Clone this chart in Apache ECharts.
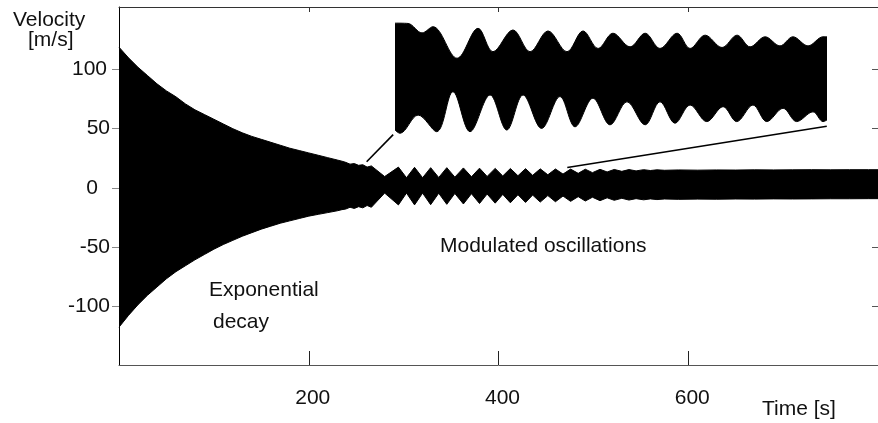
<!DOCTYPE html>
<html><head><meta charset="utf-8">
<script src="https://cdn.jsdelivr.net/npm/echarts@6/dist/echarts.min.js"></script>
<style>html,body{margin:0;padding:0;background:#fff}#c{width:878px;height:423px}</style>
</head><body><div id="c"></div>
<script>
// Main signal envelope (time in s, velocity in m/s)
const mainTime  = [0,10,20,30,40,50,60,70,80,90,100,110,120,130,140,150,160,170,180,190,200,210,220,230,235,239,243.5,248,252.5,257,261.5,266,280,294.5,303,311.5,320,328.5,337,345.5,354,363,371.5,380,388,396.5,404.5,412.5,420.5,428.5,436,444,452,460,468,476,484,491.5,499,507,514.5,522,530,537.5,545,553,560,567,575,590,610,630,650,670,690,710,730,750,770,790,800];
const mainUpper = [119,110,102,95,88,82,77,71,66,62,58,54,50,46.5,43.5,41,38.5,36,33.5,31.5,29.5,27.5,25.5,23.5,22.5,21.5,20,20.5,19,19.5,17.5,18.5,9.5,17.5,8.5,17.3,8.5,17,8.7,17,9,16.8,9.3,16.6,9.6,16.4,10,16.3,10.2,16.2,10.5,16,11,15.9,11.6,15.8,12.2,15.7,12.8,15.6,13.4,15.5,13.9,15.4,14.3,15.3,14.6,15.2,14.8,15.1,14.9,15.1,15,15.2,15.1,15.2,15.3,15.2,15.3,15.3,15.3];
const mainLower = [-118,-108,-99,-91,-84,-77,-71,-66,-61,-56.5,-52,-48,-44.5,-41,-38,-35,-32.5,-30,-28,-26,-24,-22.5,-21,-19.5,-18.5,-18,-16.5,-17.5,-16,-17,-15,-16.5,-4.5,-14.5,-4.5,-14.5,-4.5,-14.3,-4.6,-14,-4.8,-13.7,-5,-13.3,-5.3,-13,-5.6,-12.7,-5.9,-12.4,-6.2,-12.1,-6.6,-11.8,-7,-11.5,-7.5,-11.2,-8,-10.9,-8.5,-10.6,-8.9,-10.4,-9.2,-10.2,-9.4,-10,-9.5,-9.8,-9.6,-9.7,-9.5,-9.6,-9.4,-9.5,-9.4,-9.3,-9.3,-9.2,-9.2];

// Inset (zoom on the modulated part)
const insetTime  = [262,268.3,275.1,280.4,292.1,302.3,309.5,319.2,327.5,336.2,345.4,353.2,360.5,367.7,376,383.3,390.5,398.8,405.1,412.4,420.6,427.9,434.2,441.5,448.7,455,462.3,469.6,471.5];
const insetUpperV = [17.5,17.4,14.5,16.4,6.7,15.9,8.7,15.4,8.7,15.1,8.7,15.1,9.7,14.4,10.2,14.4,9.7,14.4,9.7,13.8,10,13.8,10.2,13.3,10.5,13.3,10.5,13.3,13.3];
const insetLowTime = [262,264.4,273.2,282.2,290.1,298.4,308.1,316.2,324.1,333.1,342,349.3,358,366.3,374.5,383.3,390.5,397.8,405.1,413.2,421.1,427.7,435.6,442.3,450.2,456.8,464.7,469.6,471.5];
const insetLowerV = [-15.4,-16.4,-10.8,-15.9,-3.6,-15.9,-4.6,-15.4,-4.6,-14.9,-5.1,-14.4,-5.6,-13.8,-6.7,-13.8,-6.7,-13.3,-7.7,-12.8,-8.2,-12.8,-7.7,-12.8,-8.7,-12.8,-9.8,-12.8,-12.3];

const xTickValues = [200,400,600];
const yTickValues = [-100,-50,0,50,100];
// connector lines (data coordinates of main plot)
const connectors = [[[261,22],[289,45]],[[472.5,17.2],[746,52]]];

const FONT = '"Liberation Sans", Arial, sans-serif';
const FS = 21;
const pair = (ts, vs) => ts.map((t,i)=>[t, vs[i]]);

const chart = echarts.init(document.getElementById('c'), null, {renderer:'canvas'});
const bandSeries = (data, xi, yi, origin, smooth) => ({
  type:'line', data, xAxisIndex:xi, yAxisIndex:yi, showSymbol:false, symbol:'none',
  smooth: smooth || false,
  lineStyle:{color:'#000', width:1}, areaStyle:{color:'#000', opacity:1, origin:origin},
  silent:true, animation:false, z:2
});
const upperMain = bandSeries(pair(mainTime, mainUpper), 0, 0, -3);
upperMain.markLine = {
  silent:true, symbol:['none','none'], label:{show:false}, animation:false,
  lineStyle:{color:'#000', width:1.6, type:'solid'},
  data: connectors.map(c => [{coord:c[0]},{coord:c[1]}])
};

chart.setOption({
  animation:false,
  backgroundColor:'#fff',
  grid:[
    {left:119, right:-4, top:7, bottom:58},
    {left:395, right:51, top:15, height:130}
  ],
  xAxis:[
    {gridIndex:0, type:'value', position:'bottom', min:0, max:800,
     axisLine:{show:true, onZero:false, lineStyle:{color:'#555', width:1}},
     axisTick:{show:true, inside:true, length:14, customValues:xTickValues, lineStyle:{color:'#222'}},
     axisLabel:{show:true, customValues:xTickValues, margin:23, fontSize:FS, fontFamily:FONT, color:'#111', padding:[0,0,0,8]},
     splitLine:{show:false}},
    {gridIndex:0, type:'value', position:'top', min:0, max:800,
     axisLine:{show:true, onZero:false, lineStyle:{color:'#333', width:1}},
     axisTick:{show:true, inside:true, length:5, customValues:xTickValues, lineStyle:{color:'#333'}},
     axisLabel:{show:false}, splitLine:{show:false}},
    {gridIndex:1, type:'value', min:262, max:471.5, show:false}
  ],
  yAxis:[
    {gridIndex:0, type:'value', position:'left', min:-150, max:153,
     axisLine:{show:true, onZero:false, lineStyle:{color:'#000', width:1}},
     axisTick:{show:true, inside:false, length:7, customValues:yTickValues, lineStyle:{color:'#888'}},
     axisLabel:{show:true, customValues:yTickValues, margin:9, fontSize:FS, fontFamily:FONT, color:'#111',
       formatter: v => v===0 ? '{z|0}' : (v===100 ? '{h|100}' : String(v)),
       rich:{z:{fontSize:FS, fontFamily:FONT, color:'#111', padding:[0,12,0,0]}, h:{fontSize:FS, fontFamily:FONT, color:'#111', padding:[0,3,0,0]}}},
     splitLine:{show:false}},
    {gridIndex:0, type:'value', position:'right', min:-150, max:153,
     axisLine:{show:true, onZero:false, lineStyle:{color:'#333', width:1}},
     axisTick:{show:true, inside:true, length:6, customValues:yTickValues, lineStyle:{color:'#555'}},
     axisLabel:{show:false}, splitLine:{show:false}},
    {gridIndex:1, type:'value', min:-20, max:20, show:false}
  ],
  series:[
    upperMain,
    bandSeries(pair(mainTime, mainLower), 0, 0, 3),
    bandSeries(pair(insetTime, insetUpperV), 2, 2, -2, 0.35),
    bandSeries(pair(insetLowTime, insetLowerV), 2, 2, 2, 0.35)
  ],
  graphic:[
    {type:'text', x:13, y:20.5, style:{text:'Velocity', font:`${FS}px ${FONT}`, fill:'#111', verticalAlign:'middle'}},
    {type:'text', x:28, y:40, style:{text:'[m/s]', font:`${FS}px ${FONT}`, fill:'#111', verticalAlign:'middle'}},
    {type:'text', x:209, y:290, style:{text:'Exponential', font:`${FS}px ${FONT}`, fill:'#111', verticalAlign:'middle'}},
    {type:'text', x:213, y:322, style:{text:'decay', font:`${FS}px ${FONT}`, fill:'#111', verticalAlign:'middle'}},
    {type:'text', x:440, y:246.5, style:{text:'Modulated oscillations', font:`${FS}px ${FONT}`, fill:'#111', verticalAlign:'middle'}},
    {type:'text', x:762, y:409, style:{text:'Time [s]', font:`${FS}px ${FONT}`, fill:'#111', verticalAlign:'middle'}}
  ]
});
</script></body></html>
